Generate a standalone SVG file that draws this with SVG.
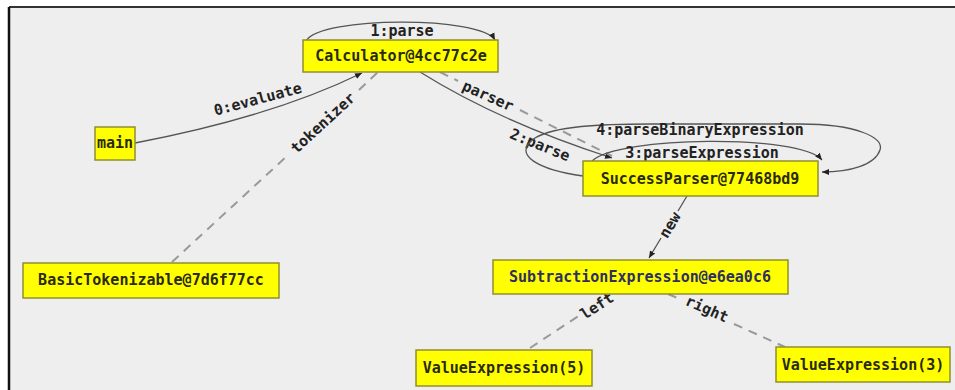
<svg xmlns="http://www.w3.org/2000/svg" width="955" height="390" viewBox="0 0 955 390">
<defs>
<marker id="arr" markerWidth="8" markerHeight="8" refX="7" refY="4" orient="auto" markerUnits="userSpaceOnUse">
<path d="M0,1 L7,4 L0,7 z" fill="#222"/>
</marker>
<style>
.box{fill:#ffff00;stroke:#8f8f30;stroke-width:1.5}
.t{font-family:"DejaVu Sans Mono","Liberation Mono",monospace;font-weight:bold;font-size:15px;fill:#2a2a10;text-anchor:middle}
.lbl{font-family:"DejaVu Sans Mono","Liberation Mono",monospace;font-weight:bold;font-size:15px;fill:#222;text-anchor:middle}
.call{fill:none;stroke:#555;stroke-width:1.3}
.ref{fill:none;stroke:#999;stroke-width:2;stroke-dasharray:9,7}
</style>
</defs>
<rect x="0" y="0" width="955" height="390" fill="#ffffff"/>
<rect x="9" y="8" width="946" height="382" fill="#eeeeee"/>
<line x1="9" y1="7" x2="955" y2="7" stroke="#333" stroke-width="2"/>
<line x1="9" y1="7" x2="9" y2="390" stroke="#111" stroke-width="2.5"/>

<g id="connectors">
<path class="call" d="M306,41 C320,16 482,16 495,40" marker-end="url(#arr)"/>
<text class="lbl" x="402" y="36">1:parse</text>

<path class="call" d="M135,143 Q272,117 362,73" marker-end="url(#arr)"/>
<text class="lbl" transform="translate(259,104) rotate(-15)" x="0" y="0">0:evaluate</text>

<path class="ref" d="M172,262 L287,156 M359,90 L378,72"/>
<text class="lbl" transform="translate(323,123) rotate(-42.5)" x="0" y="5">tokenizer</text>

<path class="call" d="M420,72 Q500,122 612,158" marker-end="url(#arr)"/>
<path class="ref" d="M440,72 L458,81 M520,110 L612,156"/>
<text class="lbl" transform="translate(488,96) rotate(24)" x="0" y="5">parser</text>
<text class="lbl" transform="translate(540,145) rotate(22)" x="0" y="5">2:parse</text>

<path class="call" d="M592,161 C618,136 800,134 822,160" marker-end="url(#arr)"/>
<text class="lbl" x="702" y="158">3:parseExpression</text>

<path class="call" d="M583,176 C540,170 510,155 535,138 C555,126 600,124 650,124 L800,124 C858,124 884,138 880,150 C875,165 850,172 822,172" marker-end="url(#arr)"/>
<text class="lbl" x="700" y="135">4:parseBinaryExpression</text>

<path class="call" d="M687,196 L678,211 M661,238 L649,258" marker-end="url(#arr)"/>
<text class="lbl" transform="translate(670,225) rotate(-59)" x="0" y="5">new</text>

<path class="ref" d="M530,348 L580,315"/>
<text class="lbl" transform="translate(597,306) rotate(-33)" x="0" y="5">left</text>

<path class="ref" d="M668,294 L680,299 M734,324 L785,347"/>
<text class="lbl" transform="translate(707,309) rotate(24)" x="0" y="5">right</text>
</g>

<g id="main">
<rect class="box" x="95" y="127" width="40" height="33"/>
<text class="t" x="115" y="148">main</text>
</g>
<g id="calculator">
<rect class="box" x="303" y="40" width="195" height="32"/>
<text class="t" x="401" y="61">Calculator@4cc77c2e</text>
</g>
<g id="tokenizable">
<rect class="box" x="23" y="263" width="256" height="35"/>
<text class="t" x="151" y="285">BasicTokenizable@7d6f77cc</text>
</g>
<g id="successparser">
<rect class="box" x="583" y="161" width="235" height="35"/>
<text class="t" x="700" y="184">SuccessParser@77468bd9</text>
</g>
<g id="subtraction">
<rect class="box" x="493" y="260" width="295" height="34"/>
<text class="t" x="640" y="282" style="fill:#2f2f60">SubtractionExpression@e6ea0c6</text>
</g>
<g id="value5">
<rect class="box" x="416" y="350" width="176" height="36"/>
<text class="t" x="504" y="373">ValueExpression(5)</text>
</g>
<g id="value3">
<rect class="box" x="776" y="347" width="174" height="35"/>
<text class="t" x="863" y="370">ValueExpression(3)</text>
</g>
</svg>
